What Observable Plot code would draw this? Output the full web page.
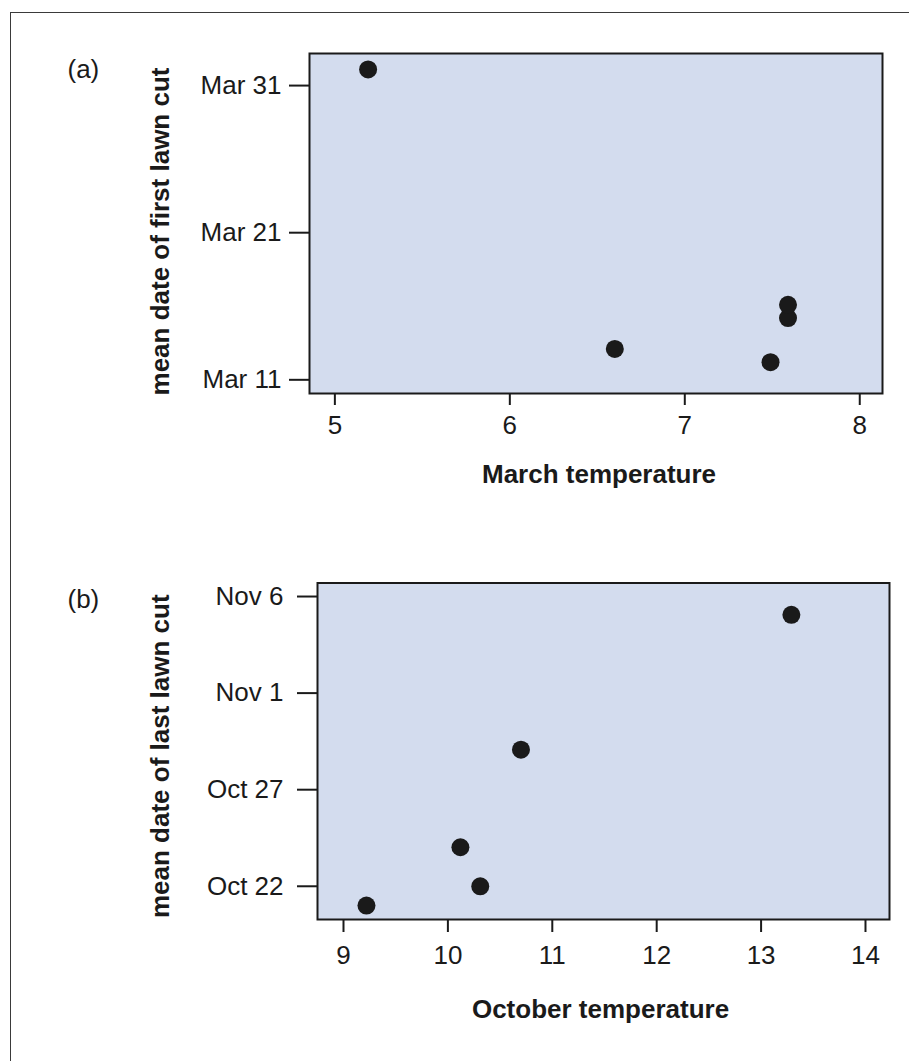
<!DOCTYPE html>
<html>
<head>
<meta charset="utf-8">
<script src="https://cdn.jsdelivr.net/npm/d3@7"></script>
<script src="https://cdn.jsdelivr.net/npm/@observablehq/plot@0.6"></script>
<style>
  html, body { margin: 0; padding: 0; background: #ffffff; }
  #wrap { position: relative; width: 909px; height: 1061px; overflow: hidden; background: #ffffff; }
  #border { position: absolute; left: 10px; top: 12px; width: 1200px; height: 1400px;
            border-top: 1.5px solid #3a3a3a; border-left: 1.5px solid #3a3a3a; }
  #pa { position: absolute; left: 0; top: 0; }
  #pb { position: absolute; left: 0; top: 530px; }
</style>
</head>
<body>
<div id="wrap">
  <div id="border"></div>
  <div id="pa"></div>
  <div id="pb"></div>
</div>
<script>
// ---- Data ----
// Panel (a): March temperature vs mean date of first lawn cut (day of March; 32 = Apr 1)
const marchTemp   = [5.19, 6.60, 7.49, 7.59, 7.59];
const firstCutDay = [32.1, 13.1, 12.2, 15.2, 16.1];
const marchTicks  = [5, 6, 7, 8];
const marchTickLabels = ["5", "6", "7", "8"];
const firstCutTicks = [11, 21, 31];
const firstCutTickLabels = ["Mar 11", "Mar 21", "Mar 31"];

// Panel (b): October temperature vs mean date of last lawn cut (day of October; 32 = Nov 1)
const octTemp    = [13.29, 10.70, 10.12, 10.31, 9.22];
const lastCutDay = [36.05, 29.07, 24.02, 22.0, 21.0];
const octTicks   = [9, 10, 11, 12, 13, 14];
const octTickLabels = ["9", "10", "11", "12", "13", "14"];
const lastCutTicks = [22, 27, 32, 37];
const lastCutTickLabels = ["Oct 22", "Oct 27", "Nov 1", "Nov 6"];

const panelLabels = ["(a)", "(b)"];
const xTitles = ["March temperature", "October temperature"];
const yTitles = ["mean date of first lawn cut", "mean date of last lawn cut"];

// ---- Styling ----
const FONT = "'Liberation Sans', Arial, Helvetica, sans-serif";
const INK = "#1a1a1a";
const PANEL_FILL = "#d3dcee";

function mapFormat(values, labels) {
  const m = new Map(values.map((v, i) => [v, labels[i]]));
  return d => m.get(d);
}

function panel(cfg) {
  const rows = cfg.xs.map((x, i) => ({x, y: cfg.ys[i]}));
  return Plot.plot({
    width: 909,
    height: cfg.height,
    marginLeft: cfg.ml,
    marginRight: cfg.mr,
    marginTop: cfg.mt,
    marginBottom: cfg.mb,
    style: {fontFamily: FONT, fontSize: "26px", color: INK, background: "transparent"},
    x: {domain: cfg.xDomain},
    y: {domain: cfg.yDomain},
    marks: [
      Plot.frame({fill: PANEL_FILL, stroke: INK, strokeWidth: 2}),
      Plot.axisX(cfg.xTicks, {
        tickFormat: mapFormat(cfg.xTicks, cfg.xTickLabels),
        tickSize: cfg.xTickSize, tickPadding: cfg.xTickPad,
        strokeWidth: 2, fontSize: 26, label: null
      }),
      Plot.axisY(cfg.yTicks, {
        tickFormat: mapFormat(cfg.yTicks, cfg.yTickLabels),
        tickSize: 20, tickPadding: cfg.yTickPad,
        strokeWidth: 2, fontSize: 26, label: null
      }),
      Plot.dot(rows, {x: "x", y: "y", r: 9, fill: INK, stroke: "none"}),
      Plot.text([cfg.xTitle], {
        text: d => d, frameAnchor: "bottom", dx: cfg.xtDx, dy: cfg.xtDy,
        fontWeight: "bold", fontSize: 26, lineAnchor: "middle", textAnchor: "middle", fill: INK
      }),
      Plot.text([cfg.yTitle], {
        text: d => d, frameAnchor: "left", dx: cfg.ytDx, dy: cfg.ytDy, rotate: -90,
        fontWeight: "bold", fontSize: 26, lineAnchor: "middle", textAnchor: "middle", fill: INK
      }),
      Plot.text([cfg.tag], {
        text: d => d, frameAnchor: "top-left", dx: cfg.tagDx, dy: cfg.tagDy,
        fontSize: 26, lineAnchor: "middle", textAnchor: "start", fill: INK
      })
    ]
  });
}

document.getElementById("pa").append(panel({
  height: 530, ml: 309, mr: 27, mt: 53, mb: 137,
  xs: marchTemp, ys: firstCutDay,
  xDomain: [4.855, 8.13], yDomain: [10.07, 33.18],
  xTicks: marchTicks, xTickLabels: marchTickLabels, xTickSize: 12, xTickPad: 10,
  yTicks: firstCutTicks, yTickLabels: firstCutTickLabels, yTickPad: 8,
  xTitle: xTitles[0], xtDx: 3, xtDy: 81,
  yTitle: yTitles[0], ytDx: -149, ytDy: 8,
  tag: panelLabels[0], tagDx: -242, tagDy: 16
}));

document.getElementById("pb").append(panel({
  height: 531, ml: 317, mr: 20, mt: 52.5, mb: 142,
  xs: octTemp, ys: lastCutDay,
  xDomain: [8.751, 14.23], yDomain: [20.28, 37.70],
  xTicks: octTicks, xTickLabels: octTickLabels, xTickSize: 13, xTickPad: 13,
  yTicks: lastCutTicks, yTickLabels: lastCutTickLabels, yTickPad: 14,
  xTitle: xTitles[1], xtDx: -3, xtDy: 90,
  yTitle: yTitles[1], ytDx: -157, ytDy: 5,
  tag: panelLabels[1], tagDx: -250, tagDy: 17
}));
</script>
</body>
</html>
